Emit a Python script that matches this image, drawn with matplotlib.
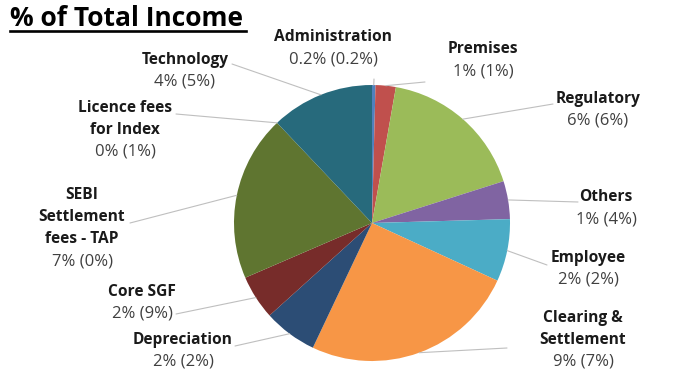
import matplotlib
matplotlib.use("Agg")
import matplotlib.pyplot as plt
from matplotlib.lines import Line2D
import numpy as np

# % of total income (current year)
categories = ["Administration", "Premises", "Regulatory", "Others", "Employee",
              "Clearing & Settlement", "Depreciation", "Core SGF",
              "SEBI Settlement fees - TAP", "Licence fees for Index", "Technology"]
share = [0.14, 0.82, 6.0, 1.54, 2.53, 8.72, 2.17, 1.8, 6.72, 0.0, 4.18]
# label text: name lines, then "current (previous)"
name_lines = [["Administration"], ["Premises"], ["Regulatory"], ["Others"], ["Employee"],
              ["Clearing &", "Settlement"], ["Depreciation"], ["Core SGF"],
              ["SEBI", "Settlement", "fees - TAP"], ["Licence fees", "for Index"], ["Technology"]]
pct_labels = ["0.2% (0.2%)", "1% (1%)", "6% (6%)", "1% (4%)", "2% (2%)", "9% (7%)",
              "2% (2%)", "2% (9%)", "7% (0%)", "0% (1%)", "4% (5%)"]

colors = ["#4F81BD", "#C0504D", "#9BBB59", "#8064A2", "#4BACC6", "#F79646",
          "#2C4D75", "#772C2A", "#5F7530", "#4D3B62", "#276A7C"]

# layout (pixels from top-left): first text line centre, leader line end
label_pos = [(333, 37), (483, 49), (598, 99), (606, 197), (588, 258), (583, 318),
             (183, 340), (142, 292), (82, 195), (125, 108), (185, 60)]
leader_end = [(374, 79), (425, 82), (553, 104), (578, 202), (547, 265), (507, 348),
              (235, 346), (176, 314), (130, 223), (176, 114), (232, 64)]

W, H = 682, 377
plt.rcParams['font.family'] = ['Open Sans', 'DejaVu Sans']
fig = plt.figure(figsize=(W / 100, H / 100), dpi=100)

cx, cy, r = 372, 223, 138
ax = fig.add_axes([(cx - r) / W, (H - cy - r) / H, 2 * r / W, 2 * r / H])
wedges, _ = ax.pie(share, colors=colors, startangle=90, counterclock=False,
                   wedgeprops=dict(linewidth=0))
ax.set_xlim(-1, 1)
ax.set_ylim(-1, 1)
ax.set_aspect('equal')
ax.axis('off')

def fpos(x, y):
    return x / W, 1 - y / H

line_gap = 22
for i, w in enumerate(wedges):
    mid = np.deg2rad((w.theta1 + w.theta2) / 2)
    ex, ey = leader_end[i]
    ax.annotate("", xy=(np.cos(mid), np.sin(mid)), xycoords='data',
                xytext=(ex, H - ey), textcoords='figure pixels',
                arrowprops=dict(arrowstyle='-', color='#BFBFBF', lw=0.8,
                                shrinkA=0, shrinkB=0))
    x, y = label_pos[i]
    for j, ln in enumerate(name_lines[i]):
        fig.text(*fpos(x, y + j * line_gap), ln, ha='center', va='center',
                 fontsize=11.2, fontweight='bold', color='#1a1a1a')
    fig.text(*fpos(x, y + len(name_lines[i]) * line_gap), pct_labels[i],
             ha='center', va='center', fontsize=12, color='#404040')

# title with underline
fig.text(*fpos(10, 18), "% of Total Income", ha='left', va='center',
         fontsize=19, fontweight='bold', color='black')
fig.add_artist(Line2D([10 / W, 246 / W], [1 - 31 / H, 1 - 31 / H],
                      color='black', lw=1.9, transform=fig.transFigure))

fig.savefig("out.png", dpi=100)
